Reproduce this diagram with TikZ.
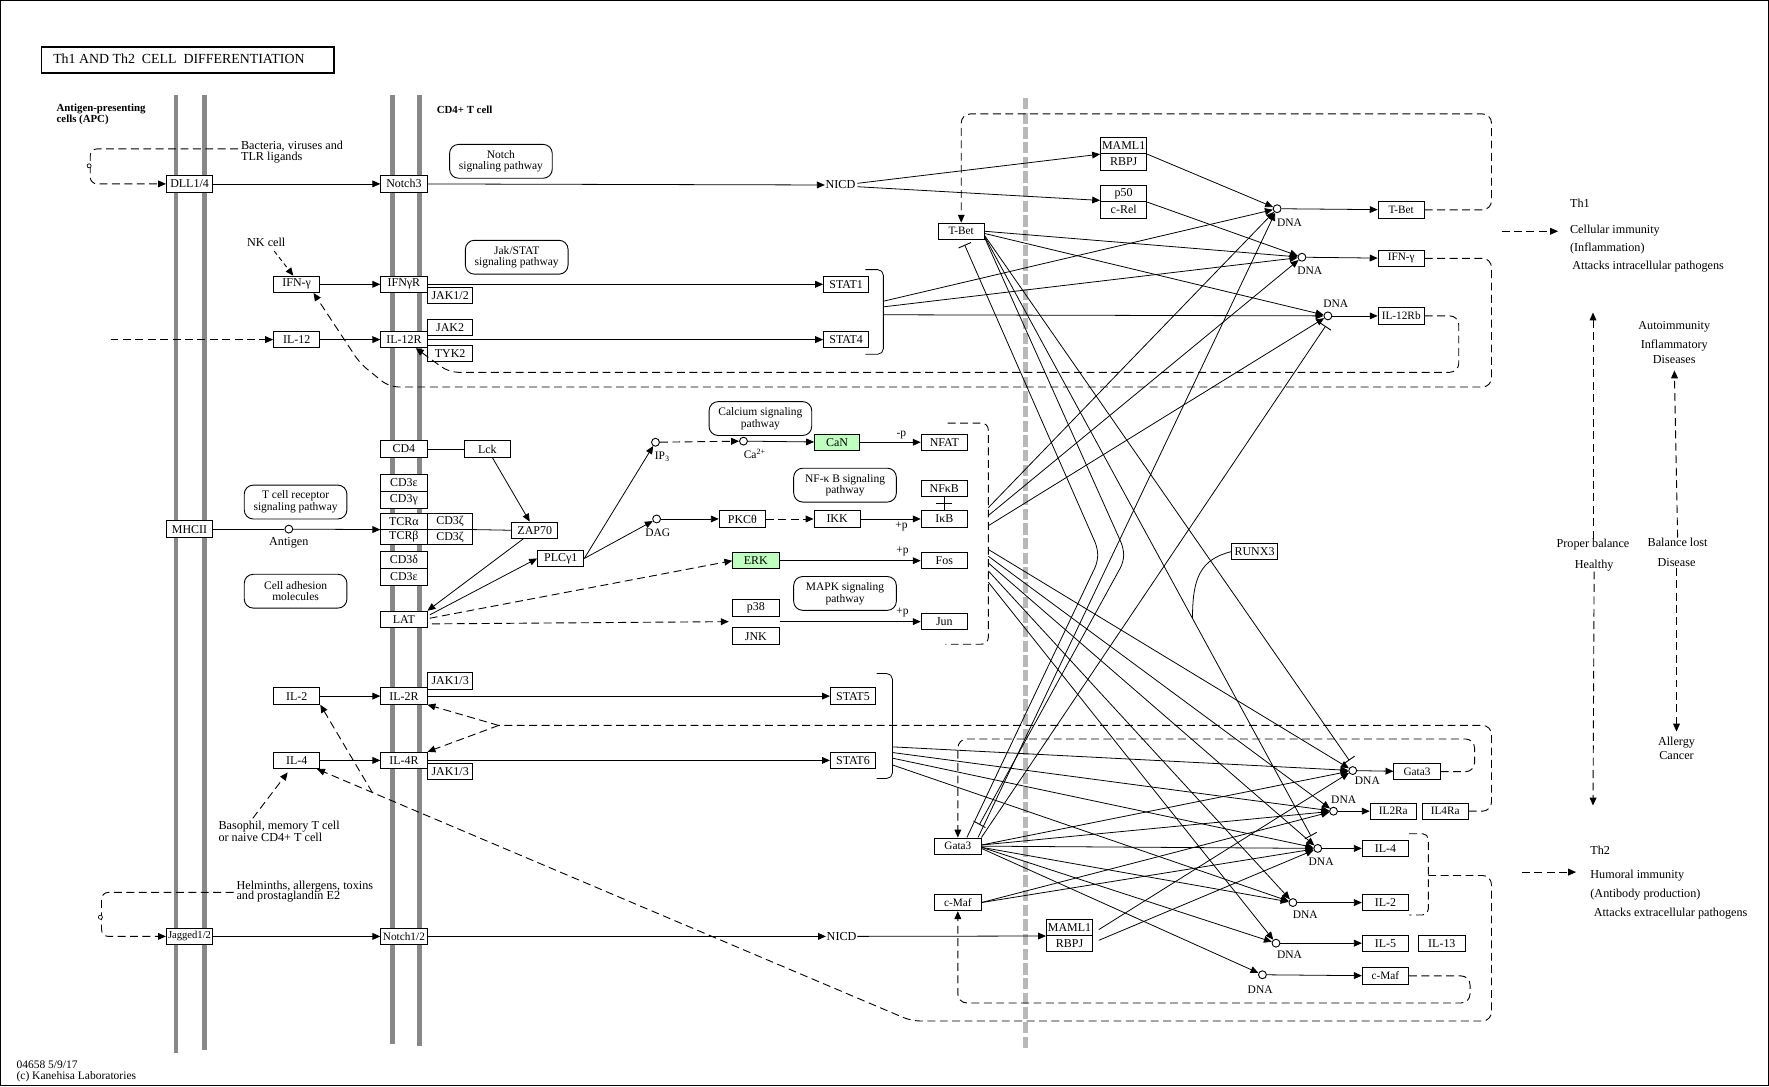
\documentclass[tikz,border=0pt]{standalone}
\usepackage{fontspec}
\setmainfont{Liberation Serif}
\usetikzlibrary{arrows.meta,calc}
\definecolor{memgray}{RGB}{136,136,136}
\definecolor{lightgr}{RGB}{184,184,184}
\definecolor{kgreen}{RGB}{191,255,191}
\begin{document}
\begin{tikzpicture}[x=1pt,y=-1pt,
  kbox/.style={draw, line width=0.8pt, minimum width=41pt, minimum height=14.5pt, inner sep=0pt, fill=white, font=\fontsize{10.6}{10.6}\selectfont},
  gbox/.style={kbox, fill=kgreen},
  pw/.style={draw, line width=0.8pt, rounded corners=8pt, minimum width=91pt, minimum height=30pt, inner sep=0pt, align=center, font=\fontsize{10.2}{10.4}\selectfont},
  dna/.style={circle, draw, line width=0.8pt, fill=white, minimum size=7pt, inner sep=0pt},
  lbl/.style={inner sep=0.5pt, font=\fontsize{10.8}{10.8}\selectfont},
  sml/.style={inner sep=0.5pt, font=\fontsize{10.2}{10.2}\selectfont},
  bld/.style={inner sep=0pt, font=\fontsize{9.6}{9.6}\selectfont\bfseries},
  memb/.style={memgray, line width=4.4pt},
  ln/.style={line width=0.7pt},
  ar/.style={ln, -{Triangle[length=7pt,width=6pt]}},
  dsh/.style={line width=0.8pt, dash pattern=on 7pt off 4pt},
  dar/.style={dsh, -{Triangle[length=7pt,width=6pt]}},
  inh/.style={ln, -{Bar[width=12pt,line width=0.8pt]}},
]
\useasboundingbox (0,0) rectangle (1568,963);
\draw[line width=1.2pt] (0.6,0.6) rectangle (1567.4,962.4);

% title
\node[draw, line width=1.6pt, minimum width=259pt, minimum height=23pt, inner sep=0pt, anchor=north west] (titlebox) at (36,41) {};
\node[anchor=west, inner sep=0pt, font=\fontsize{12.3}{12.3}\selectfont] (titletext) at (47,52.5) {Th1 AND Th2\enspace CELL\enspace DIFFERENTIATION};

% membranes
\draw[memb] (156,84) -- (156,933);
\draw[memb] (181,84) -- (181,931);
\draw[memb] (348,84) -- (348,925);
\draw[memb] (372,84) -- (372,927);
\draw[lightgr, line width=5pt, dash pattern=on 10pt off 3pt] (909,87) -- (909,930);

\node[bld, anchor=west] (apc1) at (50,97) {Antigen-presenting};
\node[bld, anchor=west] (apc2) at (50,106) {cells (APC)};
\node[bld, anchor=west] (cd4t) at (387,97) {CD4+ T cell};

% ---------- nodes ----------
\node[kbox] (dll) at (168,163) {DLL1/4};
\node[kbox] (notch3) at (358,163) {Notch3};
\node[lbl] (nicd1) at (745,164) {NICD};
\node[pw] (notchpw) at (444,143) {Notch\\signaling pathway};
\node[lbl, anchor=west] (bac1) at (213,130) {Bacteria, viruses and};
\node[lbl, anchor=west] (bac2) at (213,140) {TLR ligands};

\node[lbl] (nk) at (236,215) {NK cell};
\node[kbox] (ifngL) at (263,252) {IFN-γ};
\node[kbox] (ifngr) at (358,252) {IFNγR};
\node[kbox, minimum width=40pt] (jak12) at (399,262) {JAK1/2};
\node[pw] (jakpw) at (458,228) {Jak/STAT\\signaling pathway};
\node[kbox, minimum width=40pt] (stat1) at (750,252) {STAT1};
\node[kbox] (il12) at (263,301) {IL-12};
\node[kbox] (il12r) at (358,301) {IL-12R};
\node[kbox, minimum width=40pt] (jak2) at (399,290.5) {JAK2};
\node[kbox, minimum width=40pt] (tyk2) at (399,313.5) {TYK2};
\node[kbox, minimum width=40pt] (stat4) at (750,301) {STAT4};

\node[kbox] (cd4) at (358,398) {CD4};
\node[kbox] (lck) at (432,398) {Lck};
\node[kbox, minimum height=15pt] (cd3e1) at (358,428) {CD3ε};
\node[kbox, minimum height=15pt] (cd3g) at (358,443) {CD3γ};
\node[kbox, minimum height=14pt] (tcra) at (358,462) {TCRα};
\node[kbox, minimum height=14pt] (tcrb) at (358,476) {TCRβ};
\node[kbox, minimum height=14pt, minimum width=40pt] (cd3z1) at (399,462) {CD3ζ};
\node[kbox, minimum height=14pt, minimum width=40pt] (cd3z2) at (399,476) {CD3ζ};
\node[kbox, minimum height=15pt] (cd3d) at (358,496) {CD3δ};
\node[kbox, minimum height=15pt] (cd3e2) at (358,511) {CD3ε};
\node[kbox] (lat) at (358,549) {LAT};
\node[kbox] (mhc) at (168,469) {MHCII};
\node[pw] (tcrpw) at (262,445) {T cell receptor\\signaling pathway};
\node[dna] (ag) at (256,469) {};
\node[lbl] (agl) at (256,481) {Antigen};
\node[pw] (cadpw) at (262,524) {Cell adhesion\\molecules};
\node[kbox] (zap70) at (474,470) {ZAP70};
\node[kbox] (plcg) at (497,495) {PLCγ1};
\node[dna] (ip3) at (581,392) {};
\node[sml] (ip3l) at (587,405) {IP\textsubscript{3}};
\node[dna] (ca) at (659,391) {};
\node[sml] (cal) at (669,402) {Ca\textsuperscript{2+}};
\node[pw] (capw) at (674,371) {Calcium signaling\\pathway};
\node[gbox, minimum width=40pt] (can) at (742,392) {CaN};
\node[kbox] (nfat) at (837,392) {NFAT};
\node[sml] (mp) at (799,386) {-p};
\node[dna] (dag) at (582,460) {};
\node[sml] (dagl) at (583,472) {DAG};
\node[kbox] (pkc) at (658,460) {PKCθ};
\node[kbox] (ikk) at (742,460) {IKK};
\node[pw] (nfkbpw) at (749,430) {NF-κ B signaling\\pathway};
\node[kbox] (nfkb) at (837,433) {NFκB};
\node[kbox] (ikb) at (837,460) {IκB};
\node[sml] (pp1) at (799,467) {+p};
\node[gbox] (erk) at (670,497) {ERK};
\node[kbox] (fos) at (837,497) {Fos};
\node[sml] (pp2) at (800,489) {+p};
\node[pw] (mapkpw) at (749,526) {MAPK signaling\\pathway};
\node[kbox, minimum height=15pt] (p38) at (670,539) {p38};
\node[kbox, minimum height=15pt] (jnk) at (670,564) {JNK};
\node[kbox] (jun) at (837,551) {Jun};
\node[sml] (pp3) at (800,543) {+p};

\node[kbox] (il2L) at (263,617) {IL-2};
\node[kbox] (il2r) at (358,617) {IL-2R};
\node[kbox, minimum width=40pt] (jak13a) at (399,603.5) {JAK1/3};
\node[kbox, minimum width=40pt] (stat5) at (756,617) {STAT5};
\node[kbox] (il4L) at (263,674) {IL-4};
\node[kbox] (il4r) at (358,674) {IL-4R};
\node[kbox, minimum width=40pt] (jak13b) at (399,684) {JAK1/3};
\node[kbox, minimum width=40pt] (stat6) at (756,674) {STAT6};
\node[lbl, anchor=west] (baso1) at (193,733) {Basophil, memory T cell};
\node[lbl, anchor=west] (baso2) at (193,742) {or naive CD4+ T cell};

\node[lbl, anchor=west] (helm1) at (209,786) {Helminths, allergens, toxins};
\node[lbl, anchor=west] (helm2) at (209,795) {and prostaglandin E2};
\node[kbox, font=\fontsize{9.4}{9.4}\selectfont] (jag) at (168,830) {Jagged1/2};
\node[kbox, font=\fontsize{10}{10}\selectfont] (notch12) at (358,830) {Notch1/2};
\node[lbl] (nicd2) at (746,830) {NICD};
\node[kbox] (maml2) at (948,822) {MAML1};
\node[kbox] (rbpj2) at (948,836.5) {RBPJ};
\node[kbox, font=\fontsize{10}{10}\selectfont] (gata3L) at (849,750) {Gata3};
\node[kbox, font=\fontsize{10}{10}\selectfont] (cmafL) at (849,800) {c-Maf};

\node[kbox, font=\fontsize{10}{10}\selectfont] (tbetL) at (852,205) {T-Bet};
\node[kbox] (maml1) at (996,129) {MAML1};
\node[kbox] (rbpj1) at (996,143.5) {RBPJ};
\node[kbox] (p50) at (996,171.5) {p50};
\node[kbox] (crel) at (996,186) {c-Rel};
\node[dna] (dna1) at (1132,185) {};
\node[sml] (dna1l) at (1143,197) {DNA};
\node[kbox, font=\fontsize{10}{10}\selectfont] (tbetR) at (1242,186) {T-Bet};
\node[dna] (dna2) at (1154,228) {};
\node[sml] (dna2l) at (1161,240) {DNA};
\node[kbox, font=\fontsize{10}{10}\selectfont] (ifngR) at (1242,229) {IFN-γ};
\node[dna] (dna3) at (1177,280) {};
\node[sml] (dna3l) at (1184,269) {DNA};
\node[kbox, font=\fontsize{10}{10}\selectfont] (il12rb) at (1242,280) {IL-12Rb};
\node[kbox] (runx3) at (1112,489) {RUNX3};

\node[dna] (dnaG) at (1199,683) {};
\node[sml] (dnaGl) at (1212,692) {DNA};
\node[kbox, font=\fontsize{10}{10}\selectfont] (gata3R) at (1256,684) {Gata3};
\node[dna] (dnaA) at (1182,719) {};
\node[sml] (dnaAl) at (1191,709) {DNA};
\node[kbox, font=\fontsize{10}{10}\selectfont] (il2ra) at (1235,719) {IL2Ra};
\node[kbox, font=\fontsize{10}{10}\selectfont] (il4ra) at (1281,719) {IL4Ra};
\node[dna] (dnaB) at (1168,752) {};
\node[sml] (dnaBl) at (1171,764) {DNA};
\node[kbox] (il4prod) at (1228,752) {IL-4};
\node[dna] (dnaC) at (1146,800) {};
\node[sml] (dnaCl) at (1157,811) {DNA};
\node[kbox] (il2prod) at (1228,800) {IL-2};
\node[dna] (dnaD) at (1131,836) {};
\node[sml] (dnaDl) at (1143,846) {DNA};
\node[kbox] (il5) at (1228,836) {IL-5};
\node[kbox] (il13) at (1278,836) {IL-13};
\node[dna] (dnaE) at (1119,864) {};
\node[sml] (dnaEl) at (1117,877) {DNA};
\node[kbox, font=\fontsize{10}{10}\selectfont] (cmafR) at (1228,865) {c-Maf};

% right side texts
\node[lbl, anchor=west] (th1) at (1391,180) {Th1};
\node[lbl, anchor=west] (cellimm) at (1391,204) {Cellular immunity};
\node[lbl, anchor=west] (infl) at (1391,220) {(Inflammation)};
\node[lbl, anchor=west] (att1) at (1393,236) {Attacks intracellular pathogens};
\node[lbl] (auto1) at (1484,290) {Autoimmunity};
\node[lbl] (auto2) at (1484,306) {Inflammatory};
\node[lbl] (auto3) at (1484,319) {Diseases};
\node[lbl] (proper) at (1412,483) {Proper balance};
\node[lbl] (healthy) at (1413,501) {Healthy};
\node[lbl] (ballost) at (1487,481) {Balance lost};
\node[lbl] (disease) at (1486,499) {Disease};
\node[lbl] (allergy) at (1486,658) {Allergy};
\node[lbl] (cancer) at (1486,670) {Cancer};
\node[lbl, anchor=west] (th2) at (1409,754) {Th2};
\node[lbl, anchor=west] (humoral) at (1409,776) {Humoral immunity};
\node[lbl, anchor=west] (antib) at (1409,793) {(Antibody production)};
\node[lbl, anchor=west] (att2) at (1412,810) {Attacks extracellular pathogens};

\node[sml, anchor=west] (ver) at (14,944) {04658 5/9/17};
\node[sml, anchor=west] (copy) at (14,954) {(c) Kanehisa Laboratories};

% ---------- coordinates ----------
\coordinate (bacend) at (211,132);
\coordinate (helmend) at (207,791);
\coordinate (il12src) at (98,301);
\coordinate (sb1) at (783,267);
\coordinate (sb2) at (783,272);
\coordinate (sb3) at (783,279);
\coordinate (nb1) at (876,450);
\coordinate (nb2) at (876,457);
\coordinate (nb3) at (876,466);
\coordinate (nb4) at (876,487);
\coordinate (nb5) at (876,493);
\coordinate (nb6) at (876,499);
\coordinate (nb7) at (876,506);
\coordinate (nb8) at (876,516);
\coordinate (ss1) at (791,662);
\coordinate (ss2) at (791,667);
\coordinate (ss3) at (791,672);
\coordinate (ss4) at (791,678);
\coordinate (split) at (442,643);
\coordinate (br42) at (1266,776);
\coordinate (br2) at (330,702.4);
\coordinate (pjin) at (646,551);
\coordinate (pjout) at (691,551);
\coordinate (barG) at (1196,674);
\coordinate (barB) at (1162,741);
\coordinate (barD3) at (1175,289);
\coordinate (barTbet) at (855,217);
\coordinate (barGata) at (868,731);
\coordinate (runxend) at (1057,548);
\coordinate (th1from) at (1331,205);
\coordinate (th1to) at (1381,205);
\coordinate (th2from) at (1349,773);
\coordinate (th2to) at (1397,773);
\coordinate (balup) at (1412,277);
\coordinate (baldown) at (1412,714);

% ---------- connectors: left part ----------
\draw[dar, rounded corners=6pt] (bacend) -- (80,132) -- (80,163) -- (dll.west);
\draw[line width=0.6pt, fill=white] (79,147) circle (1.8pt);
\draw[dar, rounded corners=6pt] (helmend) -- (90,791) -- (90,830) -- (jag.west);
\draw[line width=0.6pt, fill=white] (89,813) circle (1.8pt);
\draw[ar] (dll) -- (notch3);
\draw[ar] (notch3) -- (nicd1);
\draw[ar] ($(nicd1.east)+(1,-1.5)$) -- (maml1.south west);
\draw[ar] ($(nicd1.east)+(1,1.5)$) -- ($(p50.south west)+(0,-1.5)$);
\draw[ar] (maml1.south east) -- (dna1);
\draw[ar] (p50.south east) -- (dna2);
\draw[ar] (dna1) -- (tbetR);
\draw[ar] (dna2) -- (ifngR);
\draw[ar] (dna3) -- (il12rb);

\draw[dsh, dash pattern=on 4pt off 3pt, -{Triangle[length=7pt,width=6pt]}] ($(nk.south)+(7,3)$) -- ($(ifngL.north)+(-3,0)$);
\draw[ar] (ifngL) -- (ifngr);
\draw[ar] (ifngr) -- (stat1);
\draw[dar] (il12src) -- (il12);
\draw[ar] (il12) -- (il12r);
\draw[ar] (il12r) -- (stat4);
\draw[ln, rounded corners=5pt] (767,239) -- (783,239) -- (783,314) -- (767,314);
\draw[ar] (sb1) -- (dna1);
\draw[ar] (sb2) -- (dna2);
\draw[ar] (sb3) -- (dna3);

% Th1 feedback loops
\draw[dar, rounded corners=8pt] (tbetR.east) -- (1322,186) -- (1322,101) -- (852,101) -- (tbetL.north);
\draw[dar, rounded corners=8pt] (ifngR.east) -- (1322,229) -- (1322,343) -- (345,343) -- (319,322) -- ($(ifngL.south east)+(-6,0)$);
\draw[dar, rounded corners=8pt] (il12rb.east) -- (1293,280) -- (1293,330) -- (398,330) -- (il12r);

% TCR part
\draw[ln] (mhc) -- (ag);
\draw[ar] (ag) -- (tcra.south west);
\draw[ln] (cd4) -- (lck);
\draw[ar] (lck) -- (zap70);
\draw[ln] (cd3z1.south east) -- (zap70.west);
\draw[ar] (zap70) -- (lat.north east);
\draw[ar] ($(lat.east)+(2,-4)$) -- (plcg.west);
\draw[dar] ($(lat.east)+(2,-1)$) -- (erk.west);
\draw[dar] ($(lat.east)+(4,4)$) -- (pjin);
\draw[ar] (plcg.east) -- (ip3);
\draw[ar] (plcg.east) -- (dag);
\draw[dar] (ip3) -- (ca);
\draw[ar] (ca) -- (can);
\draw[ar] (can) -- (nfat);
\draw[ar] (dag) -- (pkc);
\draw[dar] (pkc) -- (ikk);
\draw[ar] (ikk) -- (ikb);
\draw[ln] (nfkb) -- (ikb);
\path (nfkb.south) -- (ikb.north) coordinate[midway] (nfmid);
\draw[ln] ($(nfmid)+(-7,0)$) -- ($(nfmid)+(7,0)$);
\draw[ar] (erk) -- (fos);
\draw[ar] (pjout) -- (jun);
\draw[dsh, rounded corners=6pt] (840,375) -- (876,375) -- (876,571) -- (838,571);

% IL-2 / IL-4
\draw[ar] (il2L) -- (il2r);
\draw[ar] (il2r) -- (stat5);
\draw[ar] (il4L) -- (il4r);
\draw[ar] (il4r) -- (stat6);
\draw[ln, rounded corners=5pt] (777,597) -- (791,597) -- (791,690) -- (777,690);
\draw[dsh, rounded corners=8pt] (il4ra.east) -- (1322,719) -- (1322,643) -- (split);
\draw[dar] (split) -- (il2r.south east);
\draw[dar] (split) -- (il4r.north east);
\draw[dar] ($(baso1.north west)+(31,-2)$) -- ($(il4L.south)+(-8,3)$);
\draw[dsh, rounded corners=5pt] (1249,739) -- (1266,739) -- (1266,811) -- (1249,811);
\draw[dar, rounded corners=8pt] (br42) -- (1322,776) -- (1322,905) -- (808,905) -- (il4L);
\draw[dar] (br2) -- (il2L.south east);

% Jagged row
\draw[ar] (jag) -- (notch12);
\draw[ar] (notch12) -- (nicd2);
\draw[ar] (nicd2) -- (maml2.south west);
\draw[ar] ($(maml2.east)+(5,2)$) -- (dnaG);
\draw[ar] ($(rbpj2.east)+(5,-3)$) -- (dnaB);

% Th2 loops
\draw[dar, rounded corners=8pt] (gata3R.east) -- (1307,684) -- (1307,655) -- (849,655) -- (gata3L.north);
\draw[dar, rounded corners=8pt] (cmafR.east) -- (1303,865) -- (1303,889) -- (849,889) -- (cmafL.south);

% ---------- crossing lines ----------
\draw[ar] (nb1) -- (dna1);
\draw[ar] (nb2) -- (dna2);
\draw[ar] (nb3) -- (dna3);
\draw[ar] (nb4) -- (dnaG);
\draw[ar] (nb5) -- (dnaA);
\draw[ar] (nb6) -- (dnaB);
\draw[ar] (nb7) -- (dnaC);
\draw[ar] (nb8) -- (dnaD);
\draw[ar] (ss1) -- (dnaG);
\draw[ar] (ss2) -- (dnaA);
\draw[ar] (ss3) -- (dnaB);
\draw[ar] (ss4) -- (dnaC);

\draw[ar] (tbetL.east) -- (dna2);
\draw[ar] ($(tbetL.east)+(0,2)$) -- (dna3);
\draw[inh] ($(tbetL.east)+(0,4)$) -- (barG);
\draw[inh] ($(tbetL.east)+(0,5)$) -- (barB);
\draw[inh, rounded corners=6pt] ($(tbetL.east)+(0,6)$) -- (996,486) -- (996,498) -- (barGata);
\draw[inh, rounded corners=6pt] ($(gata3L.north)+(8,0)$) -- (973,498) -- (973,486) -- (barTbet);
\draw[ar] ($(gata3L.north east)+(-3,0)$) -- (dna1);
\draw[inh] (gata3L.north east) -- (barD3);
\draw[ln] (runx3.west) .. controls (1064,496) and (1057,512) .. (runxend);

\draw[ar] ($(gata3L.east)+(0,-1)$) -- (dnaG);
\draw[ar] ($(gata3L.east)+(0,-1)$) -- (dnaA);
\draw[ar] (gata3L.east) -- (dnaB);
\draw[ar] ($(gata3L.east)+(0,1)$) -- (dnaC);
\draw[ar] ($(gata3L.east)+(0,1)$) -- (dnaD);
\draw[ar] ($(gata3L.east)+(0,2)$) -- (dnaE);
\draw[ar] (cmafL.east) -- (dnaA);
\draw[ar] (cmafL.east) -- (dnaB);

\draw[ar] (dnaG) -- (gata3R);
\draw[ar] (dnaA) -- (il2ra);
\draw[ar] (dnaB) -- (il4prod);
\draw[ar] (dnaC) -- (il2prod);
\draw[ar] (dnaD) -- (il5);
\draw[ar] (dnaE) -- (cmafR);

% result arrows
\draw[dar] (th1from) -- (th1to);
\draw[dar] (th2from) -- (th2to);
\draw[dar] (proper.north) -- (balup);
\draw[dar] (healthy.south) -- (baldown);
\draw[dar, shorten >=5pt] (ballost.north) -- (auto3.south);
\draw[dar, shorten >=4pt] (disease.south) -- (allergy.north);
\end{tikzpicture}
\end{document}
